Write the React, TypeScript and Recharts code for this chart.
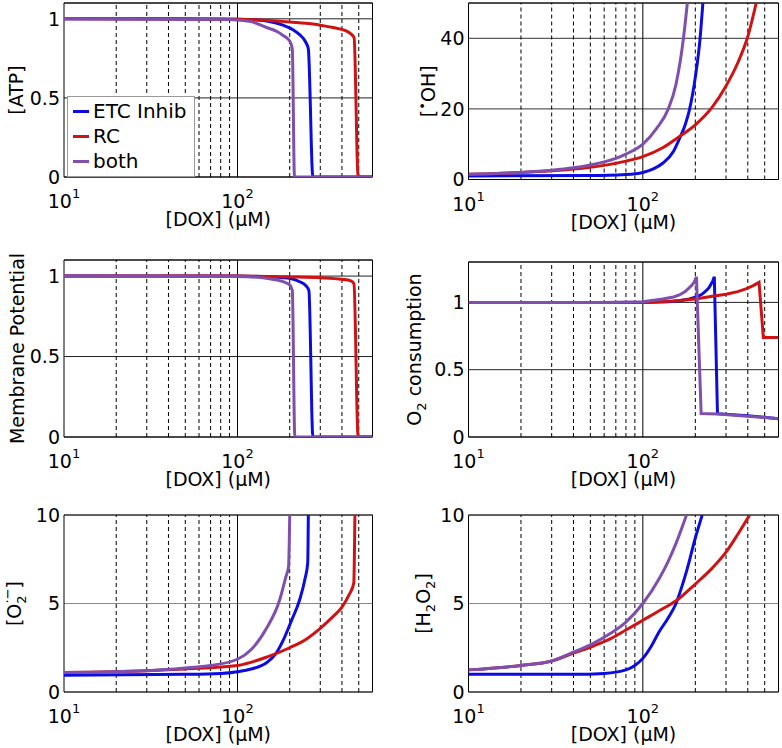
import { LineChart, Line, XAxis, YAxis, CartesianGrid, ReferenceLine, ReferenceArea, Legend } from 'recharts'

const FONT = 'DejaVu Sans'
const BLUE = '#0b0be3'
const RED = '#d01212'
const PURPLE = '#7f4fae'

const X_DOMAIN: [number, number] = [10, 600]
const X_TICKS = [10, 100]
const X_MINOR = [20, 30, 40, 50, 60, 70, 80, 90, 200, 300, 400, 500]

type Pt = [number, number]

// [ATP]
const ATP_ETC: Pt[] = [[10, 1], [50, 1], [100, 0.998], [130, 0.993], [150, 0.985], [183, 0.96], [210, 0.93], [228, 0.9], [245, 0.86], [256, 0.81], [272, 0], [600, 0]]
const ATP_RC: Pt[] = [[10, 1], [100, 0.998], [150, 0.99], [228, 0.975], [300, 0.96], [355, 0.945], [420, 0.925], [450, 0.905], [470, 0.88], [496, 0], [600, 0]]
const ATP_BOTH: Pt[] = [[10, 1], [80, 0.998], [100, 0.993], [120, 0.982], [147, 0.945], [170, 0.918], [183, 0.895], [200, 0.86], [207, 0.81], [213, 0], [600, 0]]

// [•OH]
const OH_ETC: Pt[] = [[10, 1], [50, 1.1], [80, 1.4], [100, 2], [115, 3], [130, 4.6], [150, 8], [162, 11.5], [175, 15.5], [185, 19.7], [200, 29], [213, 40], [221, 50]]
const OH_RC: Pt[] = [[10, 1.5], [20, 2], [30, 2.5], [40, 3], [50, 3.5], [60, 4], [80, 5.2], [100, 6.5], [130, 9], [160, 12], [200, 15.5], [250, 20.5], [300, 26.5], [350, 33], [400, 40.5], [447, 50]]
const OH_BOTH: Pt[] = [[10, 1.5], [20, 2], [30, 2.6], [40, 3.3], [50, 4.1], [60, 5], [70, 6], [80, 7.2], [100, 10], [120, 14.5], [140, 20], [155, 27], [171, 40], [180, 50]]

// Membrane potential
const MP_ETC: Pt[] = [[10, 1], [100, 1], [150, 0.995], [183, 0.99], [210, 0.98], [228, 0.965], [248, 0.94], [258, 0.91], [272, 0], [600, 0]]
const MP_RC: Pt[] = [[10, 1], [100, 1], [200, 0.995], [300, 0.99], [400, 0.98], [450, 0.97], [469, 0.952], [496, 0], [600, 0]]
const MP_BOTH: Pt[] = [[10, 1], [100, 0.998], [150, 0.985], [183, 0.965], [200, 0.945], [207, 0.91], [214, 0], [600, 0]]

// O2 consumption
const O2C_ETC: Pt[] = [[10, 1], [100, 1], [140, 1.005], [162, 1.012], [185, 1.025], [202, 1.04], [218, 1.06], [230, 1.085], [240, 1.11], [246, 1.135], [252, 1.16], [257, 1.19], [268, 0.173], [400, 0.158], [600, 0.136]]
const O2C_RC: Pt[] = [[10, 1], [100, 1], [150, 1.01], [200, 1.025], [251, 1.045], [300, 1.06], [350, 1.08], [390, 1.1], [430, 1.125], [464, 1.15], [491, 0.74], [600, 0.74]]
const O2C_BOTH: Pt[] = [[10, 1], [60, 1], [100, 1.005], [130, 1.025], [150, 1.04], [162, 1.055], [175, 1.08], [185, 1.11], [192, 1.13], [197, 1.15], [203, 1.19], [216, 0.175], [268, 0.17], [400, 0.155], [600, 0.136]]

// [O2·-]
const SO_ETC: Pt[] = [[10, 0.95], [50, 1], [80, 1.05], [100, 1.15], [120, 1.3], [147, 1.65], [166, 2.15], [183, 2.9], [205, 4.05], [228, 5.2], [245, 6.4], [254, 7.3], [256, 10]]
const SO_RC: Pt[] = [[10, 1.1], [30, 1.2], [50, 1.3], [100, 1.5], [150, 2.0], [200, 2.5], [250, 3.0], [300, 3.6], [350, 4.2], [400, 4.8], [440, 5.5], [468, 6.15], [475, 10]]
const SO_BOTH: Pt[] = [[10, 1.1], [30, 1.2], [50, 1.35], [70, 1.5], [100, 1.85], [120, 2.4], [147, 3.6], [175, 5.2], [190, 6.5], [197, 7.1], [200, 10]]

// [H2O2]
const HP_ETC: Pt[] = [[10, 1], [40, 1], [60, 1.05], [80, 1.25], [90, 1.5], [100, 1.9], [112, 2.6], [124, 3.4], [140, 4.2], [155, 5.0], [168, 6.0], [179, 6.9], [200, 8.7], [219, 10]]
const HP_RC: Pt[] = [[10, 1.25], [20, 1.5], [30, 1.75], [40, 2.2], [52, 2.6], [65, 3.0], [80, 3.5], [100, 4.05], [130, 4.7], [155, 5.15], [200, 6.1], [250, 7.0], [300, 7.9], [350, 8.9], [410, 10]]
const HP_BOTH: Pt[] = [[10, 1.25], [20, 1.5], [30, 1.75], [40, 2.25], [52, 2.75], [65, 3.3], [80, 3.95], [100, 5.0], [124, 6.4], [140, 7.4], [155, 8.4], [178, 10]]

const SERIES_NAMES = ['ETC Inhib', 'RC', 'both']
const SERIES_COLORS = [BLUE, RED, PURPLE]

const toRows = (pts: Pt[]) => pts.map(([dox, v]) => ({ dox, v }))

const LEFT = { left: 0, width: 390, mL: 20, mR: 17.5 }
const RIGHT = { left: 390, width: 392, mL: 34.5, mR: 3.5 }

const PANELS = [
  {
    id: 'atp', col: LEFT, top: 0, height: 250, mT: 3, mB: 33, yMax: 1.1, yTicks: [0, 0.5, 1], grid: '#222',
    series: [ATP_ETC, ATP_RC, ATP_BOTH], curve: 'monotone', legend: true, labelX: 23,
    title: <tspan>[ATP]</tspan>,
  },
  {
    id: 'oh', col: RIGHT, top: 0, height: 250, mT: 3, mB: 30.5, yMax: 50, yTicks: [0, 20, 40], grid: '#333',
    series: [OH_ETC, OH_RC, OH_BOTH], curve: 'monotone', legend: false, labelX: 45,
    title: <><tspan>[</tspan><tspan dy={-8} fontSize={13}>•</tspan><tspan dy={8}>OH]</tspan></>,
  },
  {
    id: 'mp', col: LEFT, top: 250, height: 250, mT: 10, mB: 23, yMax: 1.1, yTicks: [0, 0.5, 1], grid: '#222',
    series: [MP_ETC, MP_RC, MP_BOTH], curve: 'monotone', legend: false, labelX: 24,
    title: <tspan>Membrane Potential</tspan>,
  },
  {
    id: 'o2c', col: RIGHT, top: 250, height: 250, mT: 12, mB: 23, yMax: 1.3, yTicks: [0, 0.5, 1], grid: '#222',
    series: [O2C_ETC, O2C_RC, O2C_BOTH], curve: 'linear', legend: false, labelX: 31,
    title: <><tspan>O</tspan><tspan dy={5} fontSize={13}>2</tspan><tspan dy={-5}> consumption</tspan></>,
  },
  {
    id: 'so', col: LEFT, top: 500, height: 248, mT: 15, mB: 16, yMax: 10, yTicks: [0, 5, 10], grid: '#888',
    series: [SO_ETC, SO_RC, SO_BOTH], curve: 'monotone', legend: false, labelX: 21,
    title: <><tspan>[O</tspan><tspan dy={5} fontSize={13}>2</tspan><tspan dy={-14} dx={-8} fontSize={13}>·−</tspan><tspan dy={9}>]</tspan></>,
  },
  {
    id: 'hp', col: RIGHT, top: 500, height: 248, mT: 15, mB: 16, yMax: 10, yTicks: [0, 5, 10], grid: '#888',
    series: [HP_ETC, HP_RC, HP_BOTH], curve: 'monotone', legend: false, labelX: 40,
    title: <><tspan>[H</tspan><tspan dy={5} fontSize={13}>2</tspan><tspan dy={-5}>O</tspan><tspan dy={5} fontSize={13}>2</tspan><tspan dy={-5}>]</tspan></>,
  },
]

function LegendBox({ payload }: any) {
  return (
    <div style={{
      border: '1px solid #9a9a9a', background: '#fff', padding: '2px 0 2px 5px',
      fontFamily: FONT, fontSize: 20, lineHeight: '25px', color: '#000', boxSizing: 'border-box',
    }}>
      {(payload ?? []).map((p: any) => (
        <div key={p.value} style={{ display: 'flex', alignItems: 'center', whiteSpace: 'nowrap' }}>
          <span style={{ display: 'inline-block', width: 16, height: 3, background: p.color, marginRight: 4 }} />
          <span>{p.value}</span>
        </div>
      ))}
    </div>
  )
}

function Panel({ p }: { p: (typeof PANELS)[number] }) {
  const plotLeft = p.col.mL + 44
  const plotRight = p.col.width - p.col.mR
  const plotTop = p.mT
  const plotBottom = p.height - p.mB - 40
  const cx = (plotLeft + plotRight) / 2
  const cy = (plotTop + plotBottom) / 2

  return (
    <div style={{ position: 'absolute', left: p.col.left, top: p.top }}>
      <LineChart width={p.col.width} height={p.height}
        margin={{ top: p.mT, right: p.col.mR, bottom: p.mB, left: p.col.mL }}>
        <CartesianGrid vertical={false} stroke={p.grid} strokeWidth={1} />
        {X_MINOR.map((v) => (
          <ReferenceLine key={v} x={v} stroke="#000" strokeDasharray="4 3" strokeWidth={1} />
        ))}
        <ReferenceLine x={100} stroke="#000" strokeWidth={1} />
        <XAxis
          dataKey="dox" type="number" scale="log" domain={X_DOMAIN} ticks={X_TICKS} allowDataOverflow
          height={40} axisLine={false} tickLine={false} tickSize={0}
          tick={(t: any) => (
            <text x={t.x} y={plotBottom + 31} textAnchor="middle" fontSize={19} fontFamily={FONT} fill="#000">
              <tspan>10</tspan>
              <tspan dy={-10} fontSize={13}>{Math.round(Math.log10(t.payload.value))}</tspan>
            </text>
          )}
          label={() => (
            <text x={cx} y={plotBottom + 49} textAnchor="middle" fontSize={19} fontFamily={FONT} fill="#000">
              [DOX] (µM)
            </text>
          )}
        />
        <YAxis
          type="number" domain={[0, p.yMax]} ticks={p.yTicks} width={44} allowDataOverflow
          axisLine={false} tickLine={false} tickSize={0} tickMargin={4}
          tick={{ fill: '#000', fontSize: 19, fontFamily: FONT }}
          label={() => (
            <text x={p.labelX} y={cy} transform={`rotate(-90 ${p.labelX} ${cy})`} textAnchor="middle"
              fontSize={19} fontFamily={FONT} fill="#000">
              {p.title}
            </text>
          )}
        />
        <ReferenceArea x1={X_DOMAIN[0]} x2={X_DOMAIN[1]} y1={0} y2={p.yMax} fill="none" fillOpacity={0}
          stroke="#000" strokeWidth={1} />
        {p.series.map((s, i) => (
          <Line key={SERIES_NAMES[i]} data={toRows(s)} dataKey="v" name={SERIES_NAMES[i]}
            type={p.curve as any} stroke={SERIES_COLORS[i]} strokeWidth={3} dot={false}
            activeDot={false} isAnimationActive={false} />
        ))}
        {p.legend && (
          <Legend layout="vertical" align="center" verticalAlign="middle" content={LegendBox}
            wrapperStyle={{ left: 67, top: 96, width: 128 }} />
        )}
      </LineChart>
    </div>
  )
}

export default function App() {
  return (
    <div style={{ position: 'absolute', left: 0, top: 0, width: 782, height: 748, background: '#fff', overflow: 'hidden' }}>
      {PANELS.map((p) => <Panel key={p.id} p={p} />)}
    </div>
  )
}
